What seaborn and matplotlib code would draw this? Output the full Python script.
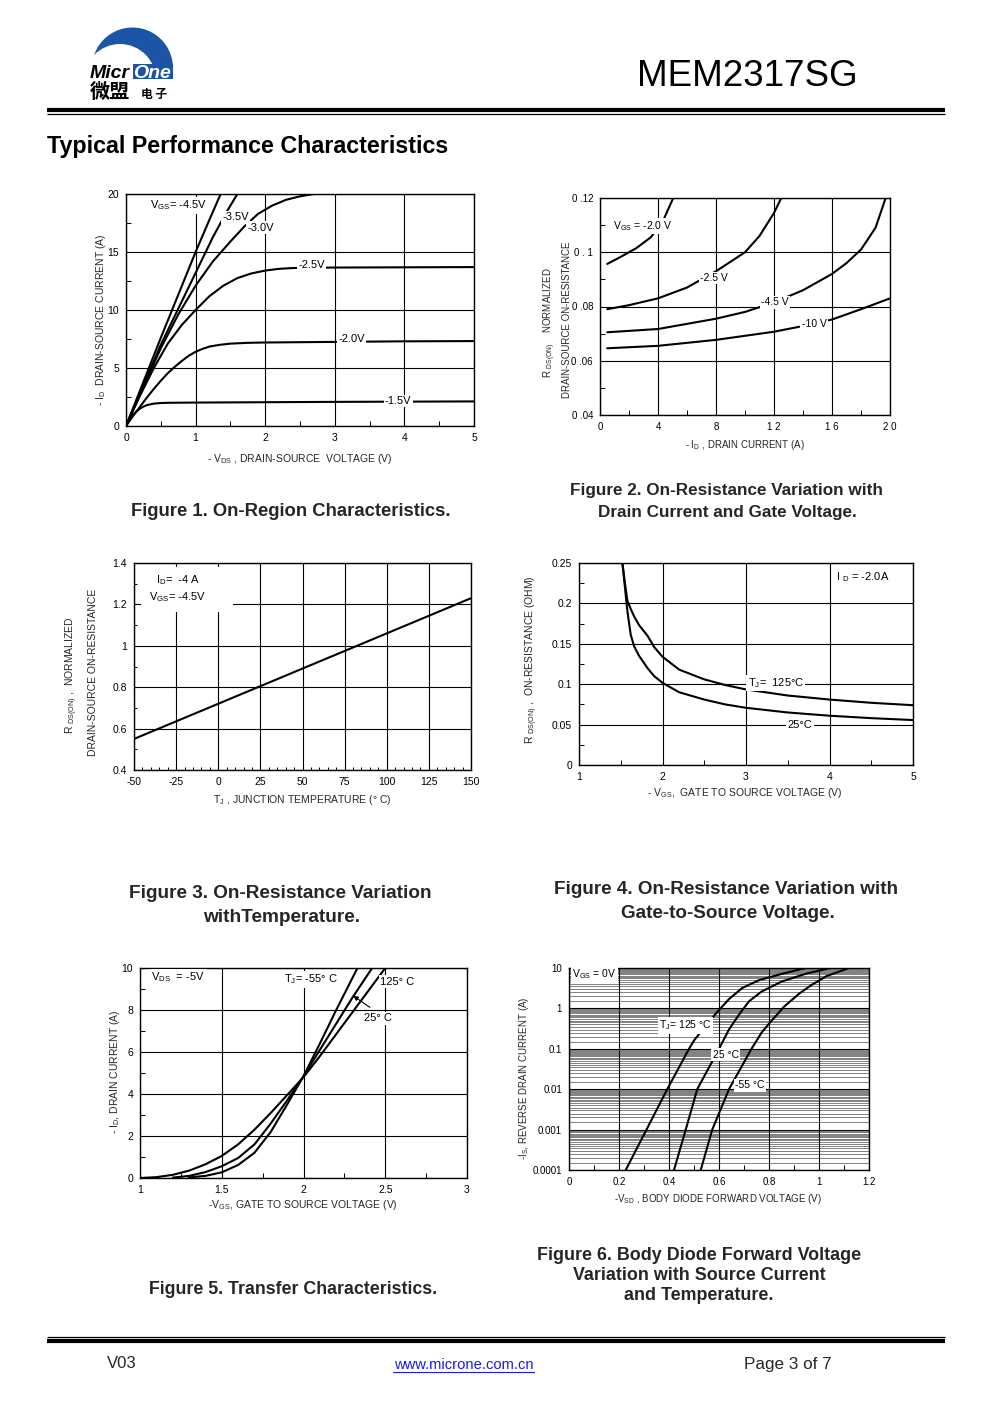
import numpy as np
import pandas as pd
import matplotlib
matplotlib.use('Agg')
import matplotlib.pyplot as plt
import seaborn as sns
from matplotlib import patches
from matplotlib.ticker import MultipleLocator, FixedLocator, FixedFormatter, NullFormatter, LogLocator

# ---------------- DATA ----------------
# Figure 1: On-region characteristics (-VDS vs -ID) per VGS
f1_vds_15 = [0, 0.05, 0.1, 0.15, 0.2, 0.25, 0.3, 0.4, 0.5, 0.6, 0.8, 1, 2, 3, 4, 5]
f1_id_15 = [0, 0.55, 0.95, 1.25, 1.5, 1.67, 1.8, 1.93, 1.98, 2.0, 2.01, 2.02, 2.05, 2.08, 2.1, 2.12]
f1_vds_20 = [0, 0.1, 0.2, 0.3, 0.4, 0.5, 0.6, 0.7, 0.8, 0.9, 1.0, 1.1, 1.2, 1.35, 1.5, 1.75, 2, 3, 4, 5]
f1_id_20 = [0, 0.85, 1.65, 2.45, 3.2, 3.9, 4.55, 5.1, 5.6, 6.05, 6.4, 6.65, 6.85, 7.0, 7.1, 7.17, 7.2, 7.25, 7.3, 7.32]
f1_vds_25 = [0, 0.2, 0.4, 0.6, 0.8, 1.0, 1.2, 1.4, 1.6, 1.8, 2.0, 2.2, 2.4, 3, 5]
f1_id_25 = [0, 2.6, 5.0, 7.1, 8.7, 10.0, 11.2, 12.1, 12.75, 13.15, 13.4, 13.55, 13.62, 13.66, 13.7]
f1_vds_30 = [0, 0.25, 0.5, 0.75, 1, 1.25, 1.5, 1.7, 1.9, 2.1, 2.3, 2.5, 2.7]
f1_id_30 = [0, 3.4, 6.7, 9.6, 12.1, 14.2, 15.9, 17.2, 18.3, 19.0, 19.5, 19.8, 20]
f1_vds_35 = [0, 0.5, 1, 1.25, 1.45, 1.6]
f1_id_35 = [0, 7.0, 13.2, 16.3, 18.5, 20]
f1_vds_45 = [0, 0.5, 1, 1.2, 1.36]
f1_id_45 = [0, 7.6, 15, 17.8, 20]

# Figure 2: Rds(on) vs ID per VGS
f2_id_20 = [0.5, 1.5, 2.5, 3.5, 4.3, 5.05]
f2_r_20 = [0.0957, 0.0985, 0.1015, 0.1055, 0.111, 0.12]
f2_id_25 = [0.5, 2, 4, 6, 8, 10, 11, 12, 12.5]
f2_r_25 = [0.079, 0.0805, 0.083, 0.087, 0.093, 0.1, 0.106, 0.1145, 0.12]
f2_id_45 = [0.5, 4, 8, 10, 12, 14, 16, 17, 18, 19, 19.7]
f2_r_45 = [0.0705, 0.0717, 0.0755, 0.078, 0.0815, 0.086, 0.092, 0.096, 0.101, 0.109, 0.12]
f2_id_10 = [0.5, 4, 8, 12, 14, 16, 18, 20]
f2_r_10 = [0.0646, 0.0655, 0.0677, 0.0707, 0.0728, 0.0752, 0.079, 0.083]

# Figure 3: normalized Rds(on) vs Tj
f3_tj = [-50, 25, 150]
f3_r = [0.55, 0.805, 1.23]

# Figure 4: Rds(on) vs VGS
f4_vgs_125 = [1.52, 1.55, 1.58, 1.62, 1.66, 1.72, 1.82, 1.9, 2.0, 2.2, 2.5, 2.75, 3.0, 3.5, 4.0, 4.5, 5.0]
f4_r_125 = [0.25, 0.225, 0.203, 0.193, 0.184, 0.173, 0.16, 0.146, 0.134, 0.118, 0.106, 0.099, 0.0935, 0.086, 0.081, 0.077, 0.074]
f4_vgs_25 = [1.52, 1.55, 1.58, 1.62, 1.66, 1.72, 1.82, 1.9, 2.0, 2.2, 2.5, 2.75, 3.0, 3.5, 4.0, 4.5, 5.0]
f4_r_25 = [0.25, 0.22, 0.19, 0.161, 0.147, 0.135, 0.12, 0.11, 0.1017, 0.09, 0.081, 0.075, 0.0708, 0.065, 0.061, 0.058, 0.0556]

# Figure 5: transfer characteristics
f5_vgs_125 = [1.0, 1.1, 1.2, 1.3, 1.4, 1.5, 1.6, 1.7, 1.8, 1.9, 2.0, 2.1, 2.2, 2.3, 2.4, 2.5]
f5_id_125 = [0.0, 0.04, 0.15, 0.35, 0.65, 1.05, 1.6, 2.3, 3.1, 3.95, 4.8, 5.8, 6.85, 7.9, 8.95, 10.0]
f5_vgs_25 = [1.2, 1.3, 1.4, 1.5, 1.6, 1.7, 1.8, 1.9, 2.0, 2.1, 2.2, 2.3, 2.42]
f5_id_25 = [0.02, 0.1, 0.28, 0.56, 0.95, 1.6, 2.6, 3.7, 4.85, 6.1, 7.35, 8.6, 10]
f5_vgs_m55 = [1.3, 1.4, 1.5, 1.6, 1.7, 1.8, 1.9, 2.0, 2.1, 2.2, 2.33]
f5_id_m55 = [0.03, 0.1, 0.27, 0.62, 1.2, 2.2, 3.5, 4.85, 6.4, 8.0, 10]

# Figure 6: body diode forward voltage
f6_vsd_125 = [0.227, 0.31, 0.393, 0.48, 0.5, 0.54, 0.587, 0.64, 0.693, 0.76, 0.853, 0.947]
f6_is_125 = [1e-4, 1e-3, 1e-2, 0.1, 0.16, 0.33, 0.74, 1.7, 3.2, 5.0, 7.2, 10]
f6_vsd_25 = [0.42, 0.467, 0.513, 0.60, 0.64, 0.68, 0.72, 0.77, 0.85, 0.95, 1.047]
f6_is_25 = [1e-4, 1e-3, 1e-2, 0.1, 0.3, 0.7, 1.5, 2.6, 4.6, 7.3, 10]
f6_vsd_m55 = [0.527, 0.573, 0.64, 0.73, 0.77, 0.8, 0.86, 0.92, 0.97, 1.03, 1.12]
f6_is_m55 = [1e-4, 1e-3, 1e-2, 0.1, 0.25, 0.42, 1.1, 2.3, 3.8, 6.3, 10]

f6_ytick_vals = [1e-4, 1e-3, 1e-2, 1e-1, 1, 10]
f6_ytick_labels = ['0.0001', '0.001', '0.01', '0.1', '1', '10']
f2_ytick_labels = ['0 .04', '0 .06', '0 .08', '0 . 1', '0 .12']
f2_xtick_labels = ['0', '4', '8', '1 2', '1 6', '2 0']

# ---------------- STYLE ----------------
sns.set_theme(style='white')
plt.rcParams['font.family'] = ['Liberation Sans', 'DejaVu Sans']
plt.rcParams['mathtext.fontset'] = 'custom'
plt.rcParams['mathtext.rm'] = 'Liberation Sans'
plt.rcParams['mathtext.it'] = 'Liberation Sans:italic'
plt.rcParams['mathtext.bf'] = 'Liberation Sans:bold'
plt.rcParams['axes.unicode_minus'] = False

W, H = 991, 1403
fig = plt.figure(figsize=(W / 100, H / 100), dpi=100)
fig.patch.set_facecolor('white')
bg = fig.add_axes([0, 0, 1, 1])
bg.set_xlim(0, W)
bg.set_ylim(H, 0)
bg.axis('off')

TS = 7.5  # chart text size
LW = 1.5


def make_ax(l, t, r, b):
    ax = fig.add_axes([l / W, 1 - b / H, (r - l) / W, (b - t) / H])
    ax.set_facecolor('white')
    for s in ax.spines.values():
        s.set_visible(True)
        s.set_color('black')
        s.set_linewidth(1.0)
    ax.tick_params(which='major', length=0, labelsize=TS, colors='black', pad=5)
    ax.tick_params(which='minor', direction='in', length=3.5, width=0.7, color='black',
                   bottom=True, left=True, top=False, right=False)
    ax.grid(True, which='major', color='black', lw=0.8)
    ax.set_axisbelow(True)
    return ax


def curve(ax, x, y, lw=LW):
    df = pd.DataFrame({'x': x, 'y': y})
    sns.lineplot(data=df, x='x', y='y', ax=ax, color='black', lw=lw,
                 estimator=None, sort=False, legend=False)
    ax.set_xlabel('')
    ax.set_ylabel('')


def label(ax, x, y, s, ha='left', va='center', box=True, size=TS + 0.5):
    kw = dict(ha=ha, va=va, fontsize=size, color='black', zorder=5)
    if box:
        kw['bbox'] = dict(facecolor='white', edgecolor='none', pad=1.0)
    ax.text(x, y, s, **kw)


def btext(x, y, s, **kw):
    bg.text(x, y, s, **kw)


CJK = ['Noto Sans CJK SC', 'DejaVu Sans']

# ---------------- HEADER ----------------
BLUE = '#1c55a6'
clip = patches.Rectangle((80, 20), 100, 58.5, transform=bg.transData)
outer = patches.Circle((132.5, 68), 40.5, facecolor=BLUE, edgecolor='none')
inner = patches.Circle((120, 80), 36, facecolor='white', edgecolor='none')
band = patches.Rectangle((133, 64), 40, 14.5, facecolor=BLUE, edgecolor='none')
for p in (outer, inner, band):
    bg.add_patch(p)
    p.set_clip_path(clip)
btext(90, 77.5, 'Micr', fontsize=14, fontweight='bold', style='italic', color='black', ha='left', va='baseline')
btext(133, 77.5, 'One', fontsize=14, fontweight='bold', style='italic', color='white', ha='left', va='baseline')
btext(90, 98, '微盟', fontsize=14.5, fontweight='bold', family=CJK, ha='left', va='baseline', color='black')
btext(141, 98, '电 子', fontsize=8.5, fontweight='bold', family=CJK, ha='left', va='baseline', color='black')
btext(858, 76, 'MEM2317SG', fontsize=26.5, ha='right', va='center', color='black')
bg.plot([47, 945], [109.5, 109.5], color='black', lw=3.0, solid_capstyle='butt')
bg.plot([47, 945], [113.5, 113.5], color='black', lw=0.9, solid_capstyle='butt')
btext(47, 147, 'Typical Performance Characteristics', fontsize=16.75, fontweight='bold',
      ha='left', va='center', color='black')

# ---------------- FIGURE 1 ----------------
ax1 = make_ax(126, 194, 474, 426)
for x, y in [(f1_vds_15, f1_id_15), (f1_vds_20, f1_id_20), (f1_vds_25, f1_id_25),
             (f1_vds_30, f1_id_30), (f1_vds_35, f1_id_35), (f1_vds_45, f1_id_45)]:
    curve(ax1, x, y)
ax1.set_xlim(0, 5)
ax1.set_ylim(0, 20)
ax1.xaxis.set_major_locator(MultipleLocator(1))
ax1.yaxis.set_major_locator(MultipleLocator(5))
ax1.xaxis.set_minor_locator(MultipleLocator(0.5))
ax1.yaxis.set_minor_locator(MultipleLocator(2.5))
label(ax1, 0.35, 19.0, r'V$_{\rm GS}$= -4.5V')
label(ax1, 1.38, 18.0, '-3.5V')
label(ax1, 1.75, 17.1, '-3.0V')
label(ax1, 2.48, 13.85, '-2.5V')
label(ax1, 3.05, 7.5, '-2.0V')
label(ax1, 3.72, 2.15, '-1.5V')
btext(300, 459, r'- V$_{\rm DS}$ , DRAIN-SOURCE  VOLTAGE (V)', fontsize=TS, ha='center', va='center')
btext(101, 320, r'- I$_{\rm D}$  DRAIN-SOURCE CURRENT (A)', fontsize=TS, ha='center', va='center', rotation=90)
btext(291, 511, 'Figure 1. On-Region Characteristics.', fontsize=13.3, fontweight='bold', ha='center', va='center')

# ---------------- FIGURE 2 ----------------
ax2 = make_ax(600, 198, 890, 415)
for x, y in [(f2_id_20, f2_r_20), (f2_id_25, f2_r_25), (f2_id_45, f2_r_45), (f2_id_10, f2_r_10)]:
    curve(ax2, x, y)
ax2.set_xlim(0, 20)
ax2.set_ylim(0.04, 0.12)
ax2.xaxis.set_major_locator(FixedLocator([0, 4, 8, 12, 16, 20]))
ax2.xaxis.set_major_formatter(FixedFormatter(f2_xtick_labels))
ax2.yaxis.set_major_locator(FixedLocator([0.04, 0.06, 0.08, 0.10, 0.12]))
ax2.yaxis.set_major_formatter(FixedFormatter(f2_ytick_labels))
ax2.xaxis.set_minor_locator(MultipleLocator(2))
ax2.yaxis.set_minor_locator(MultipleLocator(0.01))
ax2.tick_params(which='major', labelsize=7)
label(ax2, 0.9, 0.1097, r'V$_{\rm GS}$ = -2.0 V', size=TS)
label(ax2, 6.9, 0.0905, '-2.5 V', size=TS)
label(ax2, 11.1, 0.0815, '-4.5 V', size=TS)
label(ax2, 13.9, 0.0734, '-10 V', size=TS)
btext(745, 445, r'- I$_{\rm D}$ , DRAIN CURRENT (A)', fontsize=7, ha='center', va='center')
btext(550, 323, r'R $_{\rm DS(ON)}$    NORMALIZED', fontsize=7, ha='center', va='center', rotation=90)
btext(567, 320, 'DRAIN-SOURCE ON-RESISTANCE', fontsize=7, ha='center', va='center', rotation=90)
btext(727, 491, 'Figure 2. On-Resistance Variation with', fontsize=12.3, fontweight='bold', ha='center', va='center')
btext(727, 512, 'Drain Current and Gate Voltage.', fontsize=12.3, fontweight='bold', ha='center', va='center')

# ---------------- FIGURE 3 ----------------
ax3 = make_ax(134, 563, 471, 770)
curve(ax3, f3_tj, f3_r)
ax3.set_xlim(-50, 150)
ax3.set_ylim(0.4, 1.4)
ax3.xaxis.set_major_locator(MultipleLocator(25))
ax3.yaxis.set_major_locator(FixedLocator([0.4, 0.6, 0.8, 1.0, 1.2, 1.4]))
ax3.yaxis.set_major_formatter(FixedFormatter(['0.4', '0.6', '0.8', '1', '1.2', '1.4']))
ax3.xaxis.set_minor_locator(MultipleLocator(5))
ax3.yaxis.set_minor_locator(MultipleLocator(0.1))
ax3.tick_params(which='minor', length=2.5)
ax3.add_patch(patches.Rectangle((-46, 1.165), 55, 0.215, facecolor='white', edgecolor='none', zorder=4))
label(ax3, -37, 1.315, r'I$_{\rm D}$=  -4 A', box=False)
label(ax3, -41, 1.235, r'V$_{\rm GS}$= -4.5V', box=False)
btext(302, 800, r'T$_{\rm J}$ , JUNCTION TEMPERATURE (° C)', fontsize=TS, ha='center', va='center')
btext(72, 675, r'R $_{\rm DS(ON)}$ ,  NORMALIZED', fontsize=TS, ha='center', va='center', rotation=90)
btext(93, 672, 'DRAIN-SOURCE ON-RESISTANCE', fontsize=TS, ha='center', va='center', rotation=90)
btext(280, 894, 'Figure 3. On-Resistance Variation', fontsize=13.7, fontweight='bold', ha='center', va='center')
btext(282, 917, 'withTemperature.', fontsize=13.7, fontweight='bold', ha='center', va='center')

# ---------------- FIGURE 4 ----------------
ax4 = make_ax(579, 563, 913, 765)
curve(ax4, f4_vgs_125, f4_r_125)
curve(ax4, f4_vgs_25, f4_r_25)
ax4.set_xlim(1, 5)
ax4.set_ylim(0, 0.25)
ax4.xaxis.set_major_locator(MultipleLocator(1))
ax4.yaxis.set_major_locator(FixedLocator([0, 0.05, 0.1, 0.15, 0.2, 0.25]))
ax4.yaxis.set_major_formatter(FixedFormatter(['0', '0.05', '0.1', '0.15', '0.2', '0.25']))
ax4.xaxis.set_minor_locator(MultipleLocator(0.5))
ax4.yaxis.set_minor_locator(MultipleLocator(0.025))
label(ax4, 4.08, 0.232, r'I $_{\rm D}$ = -2.0A', box=False)
label(ax4, 3.02, 0.1015, r'T$_{\rm J}$=  125°C')
label(ax4, 3.5, 0.049, '25°C')
btext(745, 793, r'- V$_{\rm GS}$,  GATE TO SOURCE VOLTAGE (V)', fontsize=TS, ha='center', va='center')
btext(532, 660, r'R $_{\rm DS(ON)}$ ,  ON-RESISTANCE (OHM)', fontsize=TS, ha='center', va='center', rotation=90)
btext(726, 890, 'Figure 4. On-Resistance Variation with', fontsize=13.6, fontweight='bold', ha='center', va='center')
btext(728, 913, 'Gate-to-Source Voltage.', fontsize=13.6, fontweight='bold', ha='center', va='center')

# ---------------- FIGURE 5 ----------------
ax5 = make_ax(140, 968, 467, 1178)
curve(ax5, f5_vgs_125, f5_id_125)
curve(ax5, f5_vgs_25, f5_id_25)
curve(ax5, f5_vgs_m55, f5_id_m55)
ax5.set_xlim(1, 3)
ax5.set_ylim(0, 10)
ax5.xaxis.set_major_locator(FixedLocator([1, 1.5, 2, 2.5, 3]))
ax5.xaxis.set_major_formatter(FixedFormatter(['1', '1.5', '2', '2.5', '3']))
ax5.yaxis.set_major_locator(MultipleLocator(2))
ax5.xaxis.set_minor_locator(MultipleLocator(0.25))
ax5.yaxis.set_minor_locator(MultipleLocator(1))
label(ax5, 1.07, 9.55, r'V$_{\rm DS}$  = -5V')
label(ax5, 1.88, 9.45, r'T$_{\rm J}$= -55° C')
label(ax5, 2.47, 9.35, '125° C')
label(ax5, 2.37, 7.6, '25° C')
ax5.annotate('', xy=(2.29, 8.75), xytext=(2.42, 8.05),
             arrowprops=dict(arrowstyle='-|>', color='black', lw=0.8, mutation_scale=7), zorder=6)
btext(303, 1205, r'-V$_{\rm GS}$, GATE TO SOURCE VOLTAGE (V)', fontsize=TS, ha='center', va='center')
btext(115, 1072, r'- I$_{\rm D}$, DRAIN CURRENT (A)', fontsize=TS, ha='center', va='center', rotation=90)
btext(293, 1290, 'Figure 5. Transfer Characteristics.', fontsize=12.8, fontweight='bold', ha='center', va='center')

# ---------------- FIGURE 6 ----------------
ax6 = make_ax(569, 968, 869, 1170)
ax6.set_yscale('log')
curve(ax6, f6_vsd_125, f6_is_125)
curve(ax6, f6_vsd_25, f6_is_25)
curve(ax6, f6_vsd_m55, f6_is_m55)
ax6.set_xlim(0, 1.2)
ax6.set_ylim(1e-4, 10)
ax6.xaxis.set_major_locator(FixedLocator([0, 0.2, 0.4, 0.6, 0.8, 1.0, 1.2]))
ax6.xaxis.set_major_formatter(FixedFormatter(['0', '0.2', '0.4', '0.6', '0.8', '1', '1.2']))
ax6.xaxis.set_minor_locator(MultipleLocator(0.1))
ax6.yaxis.set_major_locator(FixedLocator(f6_ytick_vals))
ax6.yaxis.set_major_formatter(FixedFormatter(f6_ytick_labels))
ax6.yaxis.set_minor_locator(LogLocator(base=10, subs=np.arange(1.5, 10, 0.5), numticks=20))
ax6.yaxis.set_minor_formatter(NullFormatter())
ax6.grid(True, which='minor', axis='y', color='#222222', lw=0.4)
ax6.tick_params(which='minor', axis='y', length=0)
ax6.tick_params(which='major', labelsize=7)
label(ax6, 0.012, 7.0, r'V$_{\rm GS}$ = 0V', size=TS)
label(ax6, 0.36, 0.38, r'T$_{\rm J}$= 125 °C', size=TS)
label(ax6, 0.575, 0.072, '25 °C', size=TS)
label(ax6, 0.665, 0.0125, '-55 °C', size=TS)
btext(718, 1199, r'-V$_{\rm SD}$ , BODY DIODE FORWARD VOLTAGE (V)', fontsize=7, ha='center', va='center')
btext(524, 1078, r'-I$_{\rm S}$, REVERSE DRAIN CURRENT (A)', fontsize=7, ha='center', va='center', rotation=90)
btext(699, 1256, 'Figure 6. Body Diode Forward Voltage', fontsize=12.9, fontweight='bold', ha='center', va='center')
btext(699, 1276, 'Variation with Source Current', fontsize=12.9, fontweight='bold', ha='center', va='center')
btext(699, 1296, 'and Temperature.', fontsize=12.9, fontweight='bold', ha='center', va='center')

# ---------------- FOOTER ----------------
bg.plot([47, 945], [1336.5, 1336.5], color='black', lw=0.9, solid_capstyle='butt')
bg.plot([47, 945], [1341, 1341], color='black', lw=3.0, solid_capstyle='butt')
btext(107, 1364, 'V03', fontsize=12, ha='left', va='center')
btext(463.5, 1365, 'www.microne.com.cn', fontsize=10.6, ha='center', va='center', color='#1a1aee')
bg.plot([393, 534], [1372, 1372], color='#1a1aee', lw=0.8)
btext(744, 1364, 'Page 3 of 7', fontsize=12.3, ha='left', va='center')

fig.savefig('out.png', dpi=100, facecolor='white')
